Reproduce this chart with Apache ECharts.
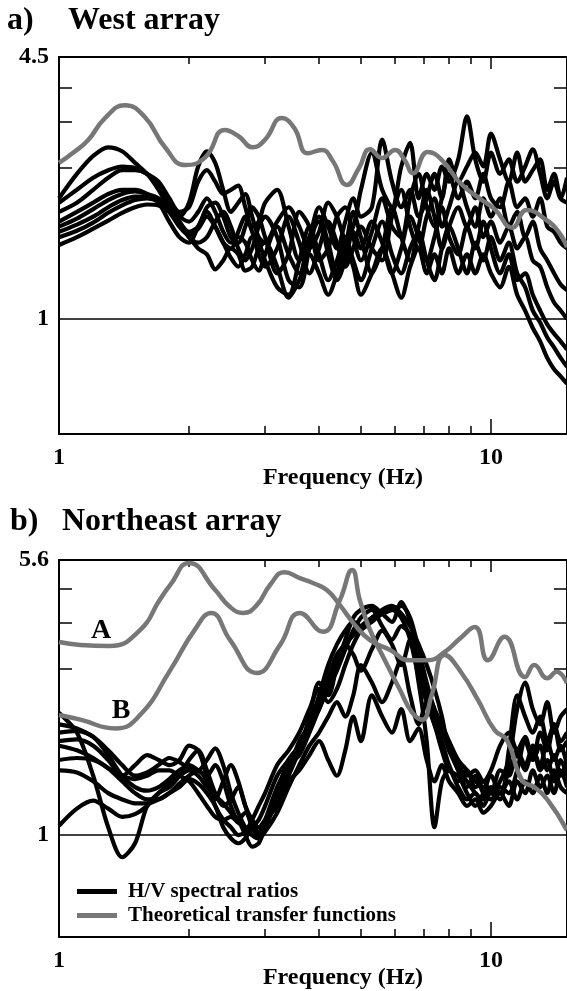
<!DOCTYPE html>
<html>
<head>
<meta charset="utf-8">
<title>H/V spectral ratios</title>
<script src="https://cdn.jsdelivr.net/npm/echarts@6/dist/echarts.min.js"></script>
<style>
  html, body { margin: 0; padding: 0; background: #fff; }
  #chart { width: 567px; height: 991px; }
</style>
</head>
<body>
<div id="chart"></div>
<script>
// frequency grid (Hz) shared by all measured curves
const freqs = [1.0, 1.1, 1.2, 1.3, 1.4, 1.5, 1.6, 1.7, 1.8, 1.9,
  2.0, 2.1, 2.2, 2.3, 2.4, 2.5, 2.6, 2.7, 2.8, 2.9,
  3.0, 3.2, 3.4, 3.6, 3.8, 4.0, 4.2, 4.4, 4.6, 4.8,
  5.0, 5.3, 5.6, 5.9, 6.2, 6.5, 6.8, 7.1, 7.4, 7.7,
  8.0, 8.4, 8.8, 9.2, 9.6, 10, 10.5, 11, 11.5, 12,
  12.5, 13, 13.5, 14, 14.5, 15];

const xLabels = [1, 10];
const xMinorTicks = [2, 3, 4, 5, 6, 7, 8, 9];
const xMajorTicks = [10];

// a) West array
const westLabels = [1, 4.5];
const westTicks = [3.77, 3.10, 2.38];
const westGrayFreq = [1.0, 1.08, 1.167, 1.278, 1.42, 1.58, 1.76, 1.96, 2.18, 2.42, 2.6, 2.81, 3.0,
  3.28, 3.5, 3.77, 4.06, 4.3, 4.64, 4.95, 5.25, 5.6, 6.0, 6.3, 6.6, 7.14, 7.7, 8.5, 9.4, 10.2,
  11.2, 12.1, 13.4, 14.4, 15];
const westGray = [2.45, 2.6, 2.79, 3.17, 3.41, 3.19, 2.68, 2.42, 2.53, 2.96, 2.86, 2.68, 2.8,
  3.17, 3.0, 2.59, 2.64, 2.48, 2.16, 2.38, 2.65, 2.52, 2.64, 2.5, 2.31, 2.61, 2.49, 2.18, 2.0, 1.88,
  1.69, 1.87, 1.77, 1.64, 1.51];

const westHV1 = [2.0, 2.3, 2.55, 2.68, 2.62, 2.45, 2.3, 2.1, 1.9, 1.8,
  1.95, 2.4, 2.62, 2.45, 2.1, 1.85, 1.95, 2.05, 1.8, 1.6,
  1.55, 1.75, 1.9, 1.7, 1.5, 1.65, 1.95, 1.8, 1.6, 1.7,
  2.1, 2.6, 2.1, 1.9, 2.4, 2.75, 2.0, 2.3, 2.1, 2.4,
  2.2, 2.5, 3.2, 2.5, 2.2, 2.6, 2.3, 2.5, 2.2, 2.4,
  2.65, 2.3, 2.0, 2.2, 2.0, 2.25];
const westHV2 = [1.95, 2.1, 2.25, 2.35, 2.4, 2.38, 2.3, 2.2, 2.0, 1.85,
  1.9, 2.2, 2.35, 2.2, 2.05, 2.1, 2.15, 1.9, 1.7, 1.75,
  1.95, 2.1, 1.7, 1.4, 1.6, 1.9, 1.7, 1.5, 1.75, 2.0,
  1.8, 1.9, 2.8, 2.2, 1.9, 2.1, 1.8, 2.0, 2.3, 2.0,
  2.5, 2.2, 2.4, 2.6, 2.4, 2.9, 2.5, 2.2, 2.6, 2.2,
  2.35, 2.5, 2.1, 2.3, 2.0, 1.95];
const westHV3 = [1.85, 1.95, 2.1, 2.25, 2.35, 2.35, 2.3, 2.15, 1.95, 1.75,
  1.65, 1.7, 1.9, 1.95, 1.8, 1.6, 1.55, 1.7, 1.9, 1.8,
  1.6, 1.3, 1.45, 1.85, 1.7, 1.4, 1.5, 1.8, 1.9, 1.6,
  1.4, 1.65, 2.0, 1.7, 1.6, 2.0, 2.3, 1.9, 1.7, 2.0,
  2.3, 2.0, 2.2, 2.0, 2.3, 2.0, 1.9, 2.2, 1.9, 2.0,
  1.8, 2.0, 1.7, 1.65, 1.55, 1.5];
const westHV4 = [1.75, 1.85, 1.95, 2.05, 2.1, 2.1, 2.05, 1.95, 1.75, 1.6,
  1.55, 1.7, 1.85, 1.7, 1.55, 1.5, 1.65, 1.8, 1.65, 1.45,
  1.35, 1.5, 1.8, 1.55, 1.3, 1.5, 1.75, 1.55, 1.35, 1.5,
  1.7, 1.5, 1.4, 1.8, 2.1, 1.7, 1.5, 1.8, 2.0, 1.7,
  1.9, 2.2, 1.9, 1.7, 2.0, 1.8, 2.0, 1.7, 1.85, 1.6,
  1.75, 1.5, 1.4, 1.3, 1.22, 1.18];
const westHV5 = [1.7, 1.78, 1.88, 1.98, 2.05, 2.08, 2.05, 2.0, 1.9, 1.75,
  1.6, 1.55, 1.6, 1.75, 1.85, 1.7, 1.5, 1.4, 1.5, 1.7,
  1.8, 1.6, 1.25, 1.2, 1.5, 1.8, 1.55, 1.3, 1.5, 1.85,
  1.6, 1.3, 1.5, 1.9, 1.6, 1.4, 1.7, 2.1, 1.8, 1.5,
  1.7, 1.9, 1.7, 1.9, 1.6, 1.75, 1.55, 1.7, 1.5, 1.6,
  1.4, 1.35, 1.2, 1.1, 1.05, 1.0];
const westHV6 = [1.65, 1.72, 1.8, 1.9, 1.98, 2.02, 2.02, 1.98, 1.9, 1.8,
  1.75, 1.85, 2.0, 1.85, 1.65, 1.55, 1.6, 1.55, 1.4, 1.32,
  1.45, 1.7, 1.45, 1.3, 1.6, 1.75, 1.45, 1.25, 1.4, 1.65,
  1.5, 1.75, 1.55, 1.3, 1.5, 1.8, 1.6, 1.4, 1.6, 1.9,
  1.6, 1.45, 1.7, 1.5, 1.75, 1.5, 1.3, 1.45, 1.25, 1.3,
  1.15, 1.05, 0.97, 0.92, 0.88, 0.84];
const westHV7 = [1.6, 1.66, 1.74, 1.84, 1.92, 1.98, 2.0, 1.96, 1.85, 1.7,
  1.62, 1.68, 1.8, 1.7, 1.55, 1.42, 1.35, 1.45, 1.6, 1.55,
  1.4, 1.2, 1.15, 1.4, 1.7, 1.45, 1.25, 1.4, 1.6, 1.4,
  1.25, 1.5, 1.75, 1.45, 1.3, 1.5, 1.65, 1.4, 1.25, 1.5,
  1.7, 1.5, 1.3, 1.55, 1.4, 1.6, 1.4, 1.55, 1.3, 1.2,
  1.05, 0.98, 0.9, 0.85, 0.8, 0.76];
const westHV8 = [1.53, 1.6, 1.68, 1.76, 1.84, 1.9, 1.93, 1.92, 1.85, 1.72,
  1.6, 1.5, 1.45, 1.33, 1.4, 1.5, 1.45, 1.32, 1.35, 1.5,
  1.55, 1.35, 1.13, 1.25, 1.45, 1.3, 1.15, 1.3, 1.55, 1.35,
  1.15, 1.3, 1.5, 1.3, 1.13, 1.35, 1.5, 1.3, 1.45, 1.3,
  1.5, 1.3, 1.45, 1.3, 1.45, 1.3, 1.2, 1.35, 1.15, 1.05,
  0.95, 0.88, 0.8, 0.75, 0.72, 0.69];

// b) Northeast array
const neLabels = [1, 5.6];
const neTicks = [4.67, 3.78, 2.84];
const neGrayAFreq = [1.0, 1.12, 1.31, 1.54, 1.71, 1.81, 2.0, 2.3, 2.49, 2.67, 2.87, 3.08, 3.33, 3.61,
  3.87, 4.17, 4.47, 4.84, 5.25, 5.83, 6.49, 7.14, 7.82, 8.49, 9.18, 9.84, 10.75, 12.0, 12.6,
  13.5, 14.2, 15];
const neGrayA = [3.35, 3.29, 3.27, 3.61, 4.36, 4.79, 5.5, 4.64, 4.17, 4.02, 4.22, 4.79, 5.19, 5.0,
  4.85, 4.64, 4.22, 3.73, 3.39, 3.19, 2.99, 2.99, 3.15, 3.43, 3.68, 2.99, 3.46, 2.69, 2.9,
  2.67, 2.78, 2.59];
const neGrayBFreq = [1.0, 1.12, 1.35, 1.54, 1.81, 2.06, 2.25, 2.49, 2.87, 3.25, 3.61, 4.08, 4.47,
  4.77, 4.97, 5.25, 5.68, 6.16, 6.56, 6.93, 7.29, 7.82, 8.55, 9.33, 10.2, 10.9, 11.8, 12.6,
  13.5, 15];
const neGrayB = [2.12, 2.06, 1.95, 2.12, 2.81, 3.61, 4.02, 3.39, 2.76, 3.29, 4.02, 3.57, 4.36,
  5.26, 4.36, 3.61, 2.99, 2.48, 2.16, 2.06, 2.4, 3.09, 2.76, 2.33, 1.93, 1.81, 1.41, 1.35,
  1.25, 1.03];

const neHV1 = [2.15, 1.9, 1.45, 1.05, 0.87, 0.95, 1.2, 1.3, 1.35, 1.45,
  1.6, 1.7, 1.5, 1.3, 1.2, 1.25, 1.35, 1.2, 1.05, 1.0,
  1.05, 1.3, 1.6, 1.75, 1.95, 2.3, 2.7, 3.1, 3.3, 3.5,
  3.7, 3.9, 4.0, 4.1, 4.2, 3.9, 3.2, 2.6, 2.2, 2.0,
  1.8, 1.6, 1.5, 1.4, 1.35, 1.3, 1.4, 1.6, 2.2, 2.6,
  2.2, 2.0, 2.3, 1.9, 2.1, 2.2];
const neHV2 = [2.0, 1.95, 1.85, 1.7, 1.55, 1.45, 1.48, 1.55, 1.62, 1.58,
  1.52, 1.5, 1.6, 1.72, 1.55, 1.3, 1.15, 1.05, 1.0, 0.98,
  1.05, 1.25, 1.5, 1.8, 2.0, 2.4, 2.9, 3.3, 3.6, 3.8,
  3.7, 3.9, 4.1, 4.2, 4.0, 3.7, 3.3, 2.9, 2.5, 2.1,
  1.7, 1.55, 1.45, 1.5, 1.4, 1.5, 1.75, 1.9, 1.7, 1.85,
  1.6, 1.75, 1.5, 1.65, 1.45, 1.6];
const neHV3 = [1.9, 1.92, 1.85, 1.65, 1.45, 1.35, 1.32, 1.35, 1.42, 1.5,
  1.55, 1.5, 1.45, 1.55, 1.4, 1.2, 1.1, 1.15, 1.08, 1.02,
  1.1, 1.35, 1.55, 1.65, 1.9, 2.2, 2.5, 2.8, 3.2, 3.6,
  3.9, 4.1, 3.7, 3.4, 3.7, 3.5, 2.9, 2.4, 2.1, 1.9,
  1.75, 1.5, 1.4, 1.3, 1.25, 1.35, 1.3, 1.5, 1.65, 1.5,
  1.7, 1.55, 1.8, 1.6, 1.75, 1.55];
const neHV4 = [1.8, 1.82, 1.75, 1.6, 1.45, 1.55, 1.65, 1.6, 1.55, 1.6,
  1.75, 1.7, 1.45, 1.25, 1.4, 1.55, 1.4, 1.2, 1.1, 1.05,
  1.1, 1.2, 1.45, 1.7, 2.1, 2.6, 2.4, 2.9, 3.4, 3.9,
  4.1, 4.2, 4.0, 3.8, 4.3, 3.8, 3.0, 2.5, 2.2, 1.95,
  1.7, 1.5, 1.35, 1.45, 1.3, 1.25, 1.35, 1.3, 1.5, 1.8,
  1.6, 1.9, 1.7, 2.0, 1.8, 1.9];
const neHV5 = [1.6, 1.62, 1.6, 1.52, 1.4, 1.3, 1.25, 1.25, 1.3, 1.38,
  1.45, 1.5, 1.4, 1.2, 1.1, 1.05, 1.0, 1.02, 1.1, 1.2,
  1.3, 1.55, 1.7, 1.9, 2.2, 2.5, 2.3, 2.5, 2.9, 3.3,
  3.6, 3.8, 4.0, 4.1, 3.9, 3.4, 2.7, 2.3, 2.0, 1.8,
  1.55, 1.4, 1.5, 1.35, 1.4, 1.3, 1.5, 1.45, 1.7, 1.55,
  1.75, 1.5, 1.6, 1.4, 1.6, 1.45];
const neHV6 = [1.5, 1.48, 1.4, 1.3, 1.25, 1.22, 1.22, 1.25, 1.3, 1.35,
  1.42, 1.38, 1.3, 1.2, 1.05, 0.98, 0.95, 0.98, 1.05, 1.1,
  1.2, 1.45, 1.6, 1.75, 2.0, 2.2, 2.6, 3.0, 3.3, 3.1,
  2.8, 3.2, 3.6, 3.3, 2.9, 3.4, 2.6, 1.8, 1.05, 1.4,
  1.5, 1.35, 1.25, 1.3, 1.2, 1.3, 1.25, 1.7, 2.4, 2.1,
  1.9, 2.1, 1.8, 2.0, 1.7, 1.8];
const neHV7 = [1.06, 1.18, 1.24, 1.18, 1.12, 1.14, 1.2, 1.3, 1.38, 1.45,
  1.5, 1.45, 1.35, 1.28, 1.22, 1.15, 1.1, 1.0, 0.93, 0.95,
  1.05, 1.25, 1.4, 1.5, 1.65, 1.8, 1.6, 1.45, 1.7, 2.1,
  1.8, 2.4, 2.1, 1.9, 2.2, 1.8, 1.95, 1.6, 1.4, 1.55,
  1.4, 1.3, 1.2, 1.25, 1.15, 1.2, 1.3, 1.2, 1.4, 1.3,
  1.5, 1.35, 1.45, 1.3, 1.5, 1.35];
const neHV8 = [1.75, 1.7, 1.62, 1.52, 1.45, 1.42, 1.45, 1.5, 1.5, 1.45,
  1.4, 1.3, 1.2, 1.12, 1.1, 1.12, 1.08, 1.05, 1.0, 0.98,
  1.02, 1.15, 1.35, 1.55, 1.75, 1.9, 2.1, 2.3, 2.1, 2.4,
  2.9, 2.6, 2.3, 2.6, 3.0, 2.4, 2.0, 2.3, 2.0, 1.7,
  1.5, 1.45, 1.3, 1.2, 1.3, 1.45, 1.3, 1.4, 1.25, 1.4,
  1.3, 1.45, 1.3, 1.5, 1.35, 1.3];

const westHV = [westHV1, westHV2, westHV3, westHV4, westHV5, westHV6, westHV7, westHV8];
const neHV = [neHV1, neHV2, neHV3, neHV4, neHV5, neHV6, neHV7, neHV8];

const serif = 'Liberation Serif';
const HV_NAME = 'H/V spectral ratios';
const TH_NAME = 'Theoretical transfer functions';

function pairs(xs, ys) {
  return xs.map((x, i) => [x, ys[i]]);
}

function freqAxis(gridIndex, position, ticks, tickLen, labels) {
  return {
    type: 'log', logBase: 10, gridIndex: gridIndex, position: position,
    min: 1, max: 15,
    axisLine: { show: true, onZero: false, lineStyle: { color: '#000', width: 2 } },
    axisTick: { show: true, inside: true, length: tickLen, customValues: ticks,
      lineStyle: { color: '#000', width: 1.5 } },
    axisLabel: labels ? {
      show: true, customValues: labels, margin: 12, color: '#000',
      fontFamily: serif, fontWeight: 'bold', fontSize: 24,
      formatter: (v) => String(Math.round(v))
    } : { show: false },
    splitLine: { show: false }
  };
}

function ampAxis(gridIndex, position, min, max, ticks, labels) {
  return {
    type: 'log', logBase: 10, gridIndex: gridIndex, position: position,
    min: min, max: max,
    axisLine: { show: true, onZero: false, lineStyle: { color: '#000', width: 2 } },
    axisTick: { show: true, inside: true, length: 13, customValues: ticks,
      lineStyle: { color: '#000', width: 1.5 } },
    axisLabel: labels ? {
      show: true, customValues: labels, margin: 10, color: '#000',
      fontFamily: serif, fontWeight: 'bold', fontSize: 24,
      formatter: (v) => (Math.abs(v - 1) < 1e-6 ? '1' : (Math.round(v * 10) / 10).toFixed(1))
    } : { show: false },
    splitLine: { show: false }
  };
}

function hvSeries(vals, xi, yi, withOneLine) {
  const s = {
    name: HV_NAME, type: 'line', xAxisIndex: xi, yAxisIndex: yi,
    data: pairs(freqs, vals),
    symbol: 'none', smooth: 0.3,
    lineStyle: { color: '#000', width: 4.2 },
    itemStyle: { color: '#000' },
    z: 2
  };
  if (withOneLine) {
    s.markLine = {
      silent: true, symbol: 'none', label: { show: false },
      lineStyle: { color: '#000', width: 1.5, type: 'solid' },
      data: [{ yAxis: 1 }]
    };
  }
  return s;
}

function graySeries(fx, vals, xi, yi) {
  return {
    name: TH_NAME, type: 'line', xAxisIndex: xi, yAxisIndex: yi,
    data: pairs(fx, vals),
    symbol: 'none', smooth: 0.5,
    lineStyle: { color: '#777', width: 4.5 },
    itemStyle: { color: '#777' },
    z: 3
  };
}

const series = [];
westHV.forEach((v, i) => series.push(hvSeries(v, 0, 0, i === 0)));
series.push(graySeries(westGrayFreq, westGray, 0, 0));
neHV.forEach((v, i) => series.push(hvSeries(v, 4, 2, i === 0)));
series.push(graySeries(neGrayAFreq, neGrayA, 4, 2));
series.push(graySeries(neGrayBFreq, neGrayB, 4, 2));

const titleFont = 'bold 32px "Liberation Serif"';
const axisNameFont = 'bold 24px "Liberation Serif"';

const option = {
  animation: false,
  backgroundColor: '#fff',
  grid: [
    { left: 59, top: 57, width: 510, height: 377 },
    { left: 59, top: 560, width: 510, height: 377 }
  ],
  xAxis: [
    freqAxis(0, 'bottom', xMinorTicks, 8, xLabels),
    freqAxis(0, 'top', xMinorTicks, 7, null),
    freqAxis(0, 'bottom', xMajorTicks, 15, null),
    freqAxis(0, 'top', xMajorTicks, 12, null),
    freqAxis(1, 'bottom', xMinorTicks, 8, xLabels),
    freqAxis(1, 'top', xMinorTicks, 7, null),
    freqAxis(1, 'bottom', xMajorTicks, 15, null),
    freqAxis(1, 'top', xMajorTicks, 12, null)
  ],
  yAxis: [
    ampAxis(0, 'left', 0.517, 4.5, westTicks, westLabels),
    ampAxis(0, 'right', 0.517, 4.5, westTicks, null),
    ampAxis(1, 'left', 0.528, 5.6, neTicks, neLabels),
    ampAxis(1, 'right', 0.528, 5.6, neTicks, null)
  ],
  legend: {
    data: [HV_NAME, TH_NAME],
    orient: 'vertical', left: 72, top: 876,
    icon: 'rect', itemWidth: 40, itemHeight: 5, itemGap: 3,
    selectedMode: false,
    textStyle: { color: '#000', fontFamily: serif, fontWeight: 'bold', fontSize: 21,
      lineHeight: 21, padding: [0, 0, 0, 6] }
  },
  graphic: [
    { type: 'text', x: 7, y: 21, style: { text: 'a)', font: titleFont, fill: '#000', verticalAlign: 'middle' } },
    { type: 'text', x: 68, y: 21, style: { text: 'West array', font: titleFont, fill: '#000', verticalAlign: 'middle' } },
    { type: 'text', x: 10, y: 522, style: { text: 'b)', font: titleFont, fill: '#000', verticalAlign: 'middle' } },
    { type: 'text', x: 62, y: 522, style: { text: 'Northeast array', font: titleFont, fill: '#000', verticalAlign: 'middle' } },
    { type: 'text', x: 343, y: 478, style: { text: 'Frequency (Hz)', font: axisNameFont, fill: '#000', align: 'center', verticalAlign: 'middle' } },
    { type: 'text', x: 343, y: 978, style: { text: 'Frequency (Hz)', font: axisNameFont, fill: '#000', align: 'center', verticalAlign: 'middle' } },
    { type: 'text', x: 101, y: 631, style: { text: 'A', font: 'bold 28px "Liberation Serif"', fill: '#000', align: 'center', verticalAlign: 'middle' } },
    { type: 'text', x: 121, y: 711, style: { text: 'B', font: 'bold 28px "Liberation Serif"', fill: '#000', align: 'center', verticalAlign: 'middle' } }
  ],
  series: series
};

const chart = echarts.init(document.getElementById('chart'));
chart.setOption(option);
</script>
</body>
</html>
